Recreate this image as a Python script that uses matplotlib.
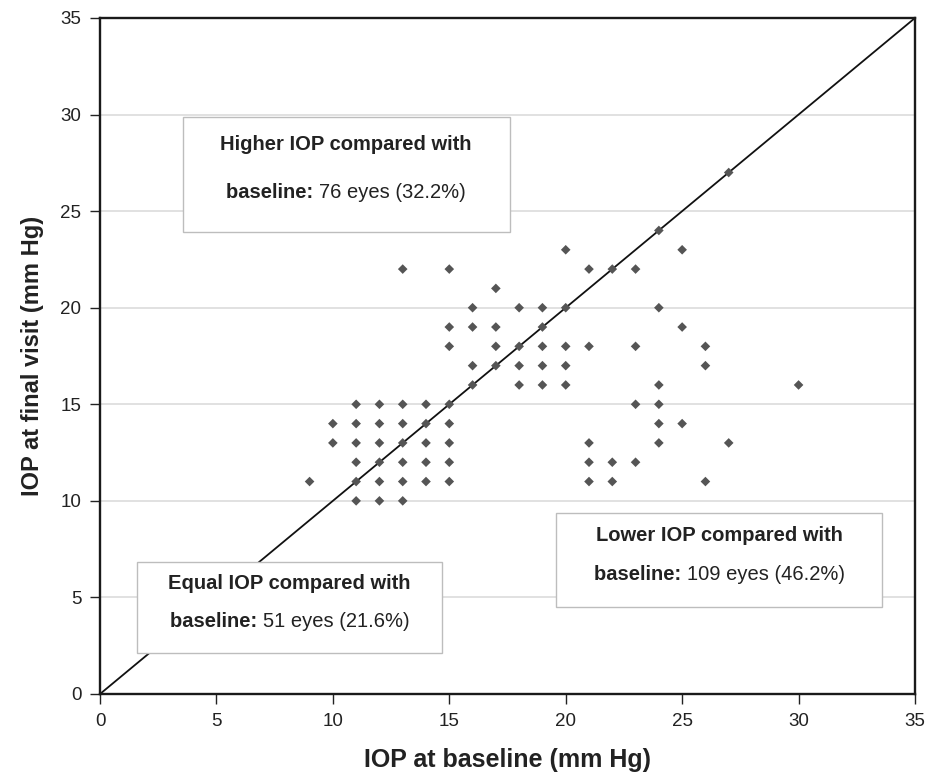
import matplotlib
matplotlib.use("Agg")
import matplotlib.pyplot as plt
from matplotlib.patches import Rectangle

plt.rcParams['font.family'] = ['Liberation Sans', 'DejaVu Sans']

# IOP at final visit (mm Hg) rows -> baseline IOP values observed in that row
rows = {
    10: [11, 12, 13],
    11: [9, 11, 12, 13, 14, 15, 21, 22, 26],
    12: [11, 12, 13, 14, 15, 21, 22, 23],
    13: [10, 11, 12, 13, 14, 15, 21, 24, 27],
    14: [10, 11, 12, 13, 14, 15, 24, 25],
    15: [11, 12, 13, 14, 15, 23, 24],
    16: [16, 18, 19, 20, 24, 30],
    17: [16, 17, 18, 19, 20, 26],
    18: [15, 17, 18, 19, 20, 21, 23, 26],
    19: [15, 16, 17, 19, 25],
    20: [16, 18, 19, 20, 24],
    21: [17],
    22: [13, 15, 21, 22, 23],
    23: [20, 25],
    24: [24],
    27: [27],
}
baseline_iop = [b for f, bs in rows.items() for b in bs]
final_iop = [f for f, bs in rows.items() for b in bs]

ticks = [0, 5, 10, 15, 20, 25, 30, 35]

annotations = [
    # (line1 bold, line2 bold part, line2 normal part)
    ("Higher IOP compared with", "baseline:", "76 eyes (32.2%)"),
    ("Equal IOP compared with", "baseline:", "51 eyes (21.6%)"),
    ("Lower IOP compared with", "baseline:", "109 eyes (46.2%)"),
]
# box extents in data coords (x0, y0, x1, y1)
boxes = [
    (3.55, 23.9, 17.6, 29.9),
    (1.57, 2.1, 14.7, 6.85),
    (19.6, 4.5, 33.6, 9.35),
]

W, H = 925, 783
fig = plt.figure(figsize=(W / 100, H / 100), dpi=100)
ax = fig.add_axes([100 / W, 1 - 694 / H, 815 / W, 676 / H])

ax.set_xlim(0, 35)
ax.set_ylim(0, 35)
ax.set_xticks(ticks)
ax.set_yticks(ticks)
ax.tick_params(axis='both', direction='out', length=7, width=1.0, labelsize=13.5,
               colors='#222222', pad=6.5)
ax.tick_params(top=False, right=False)
for s in ax.spines.values():
    s.set_linewidth(1.7)
    s.set_color('#1a1a1a')

for t in ticks[1:-1]:
    ax.axhline(t, color='#dcdcdc', lw=1.2, zorder=0)

ax.plot([0, 35], [0, 35], color='#111111', lw=1.3, zorder=2)
ax.scatter(baseline_iop, final_iop, marker='D', s=24, color='#555555',
           edgecolors='none', zorder=3)

ax.set_xlabel("IOP at baseline (mm Hg)", fontsize=18, fontweight='bold',
              color='#222222', labelpad=13)
ax.set_ylabel("IOP at final visit (mm Hg)", fontsize=17, fontweight='bold',
              color='#222222', labelpad=12)

fig.canvas.draw()
renderer = fig.canvas.get_renderer()
for (l1, l2b, l2n), (x0, y0, x1, y1) in zip(annotations, boxes):
    ax.add_patch(Rectangle((x0, y0), x1 - x0, y1 - y0, facecolor='white',
                           edgecolor='#bdbdbd', lw=1.0, zorder=4))
    cx = (x0 + x1) / 2
    h = y1 - y0
    ya = y1 - h * 0.24
    yb = y1 - h * 0.655
    ax.text(cx, ya, l1, ha='center', va='center', fontsize=14.5,
            fontweight='bold', color='#222222', zorder=5)
    tb = ax.text(0, yb, l2b + " ", ha='left', va='center', fontsize=14.5,
                 fontweight='bold', color='#222222', zorder=5)
    tn = ax.text(0, yb, l2n, ha='left', va='center', fontsize=14.5,
                 color='#222222', zorder=5)
    wb = tb.get_window_extent(renderer).width
    wn = tn.get_window_extent(renderer).width
    inv = ax.transData.inverted()
    px_cx = ax.transData.transform((cx, yb))[0]
    start = px_cx - (wb + wn) / 2
    xb = inv.transform((start, 0))[0]
    xn = inv.transform((start + wb, 0))[0]
    tb.set_x(xb)
    tn.set_x(xn)

fig.savefig("out.png", dpi=100)
